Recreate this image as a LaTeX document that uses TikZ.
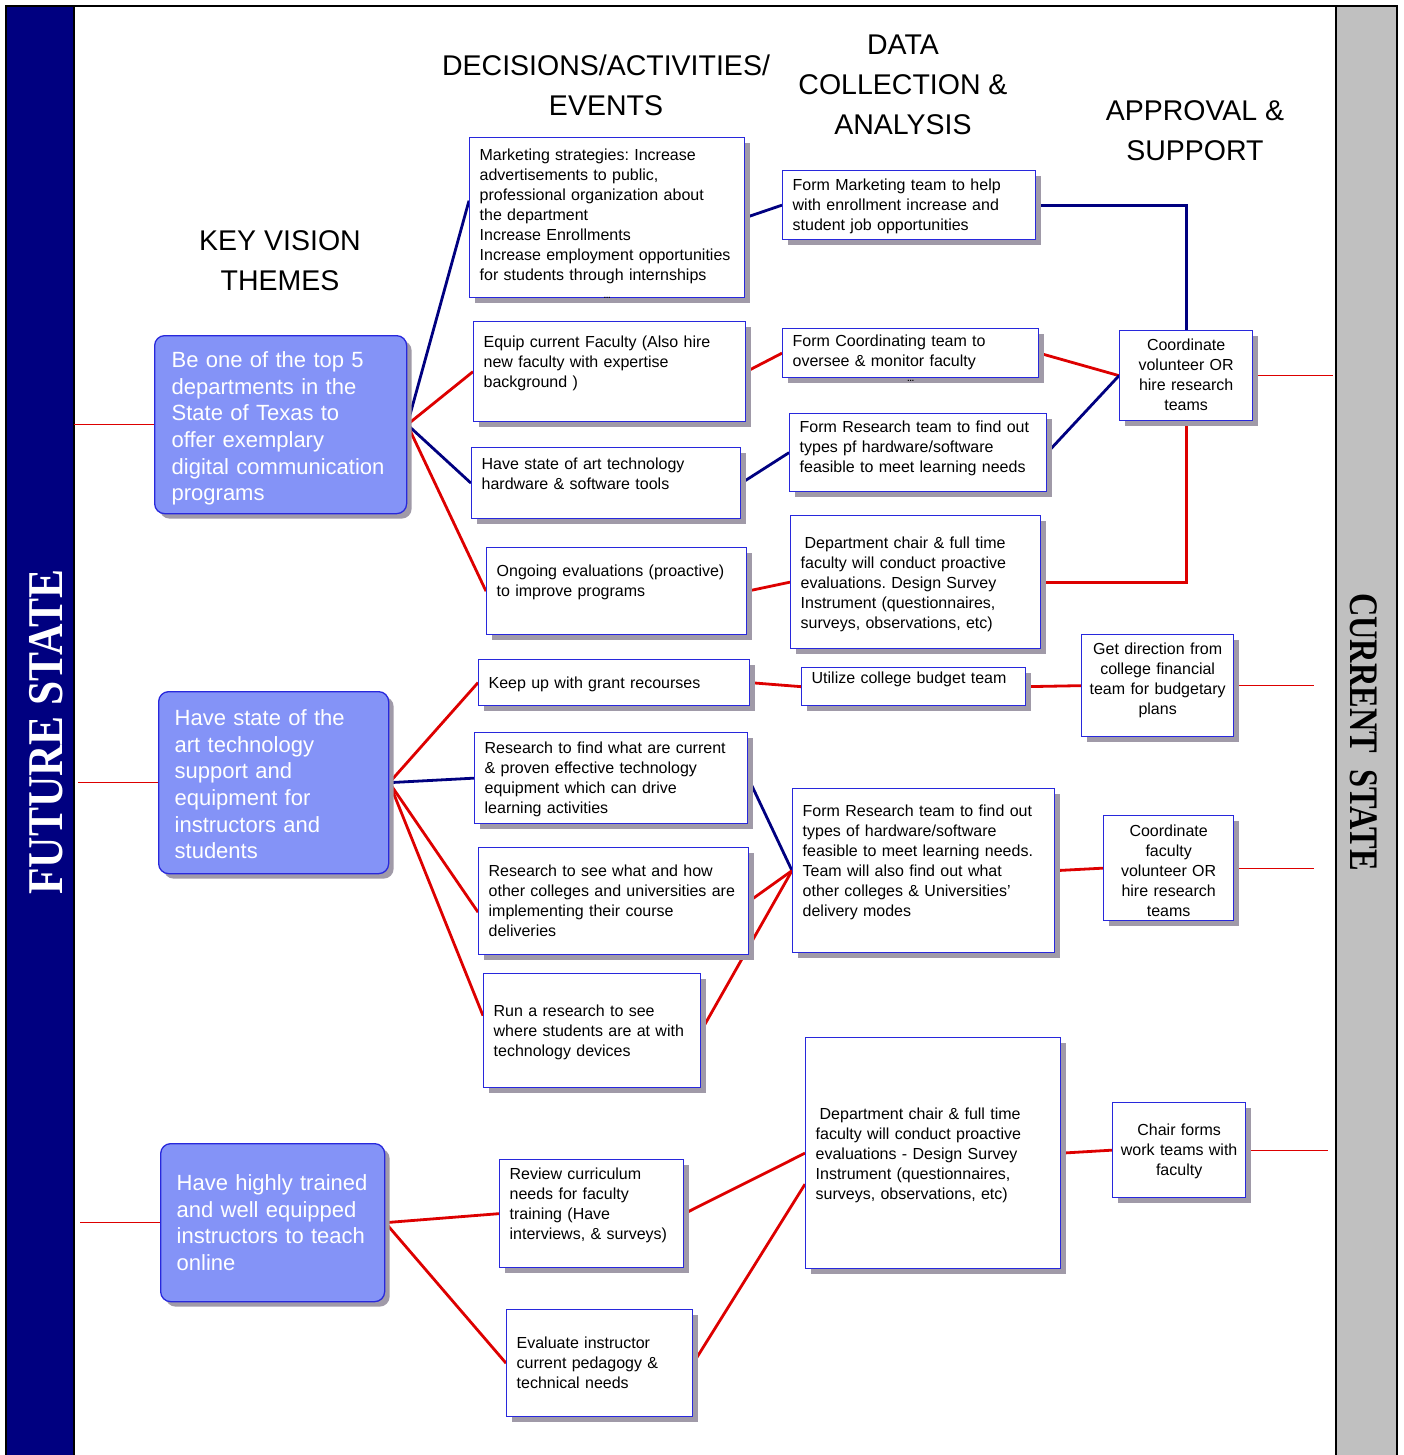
\documentclass[tikz,border=0pt]{standalone}
\usepackage{graphicx}
\usepackage{fontspec}
\setmainfont{Liberation Sans}
\newfontfamily\bandfont{Liberation Serif}
\usetikzlibrary{shadows,backgrounds}
\frenchspacing

\definecolor{bandnavy}{RGB}{0,0,128}
\definecolor{bandgray}{RGB}{192,192,192}
\definecolor{linkred}{RGB}{221,0,0}
\definecolor{cellblue}{RGB}{40,40,220}
\definecolor{themefill}{RGB}{132,147,247}
\definecolor{shade}{RGB}{160,154,168}

\newcommand\cellfont{\fontsize{16}{20}\selectfont}
\newcommand\themefont{\fontsize{22}{26.6}\selectfont}
\newcommand\headfont{\fontsize{28.5}{40}\selectfont}

\tikzset{
  cell/.style n args={3}{draw=cellblue, line width=1.3pt, fill=white,
    anchor=north west, align=left, inner xsep=10pt, inner ysep=0pt,
    text width=#1, text depth=#2, text height=#3, font=\cellfont,
    general shadow={fill=shade, shadow xshift=5pt, shadow yshift=-5pt}},
  theme/.style n args={3}{cell={#1}{#2}{#3}, fill=themefill, text=white,
    rounded corners=10pt, inner xsep=17pt, font=\themefont},
  approve/.style n args={3}{cell={#1}{#2}{#3}, align=center, inner xsep=4pt},
  head/.style={align=center, font=\headfont},
  dots/.style={font=\fontsize{8}{8}\selectfont\bfseries, inner sep=0pt},
  navylink/.style={draw=bandnavy, line width=2.8pt},
  redlink/.style={draw=linkred, line width=2.8pt},
  thinlink/.style={draw=linkred, line width=0.8pt}
}

\begin{document}
\begin{tikzpicture}[x=1pt, y=-1pt]
\useasboundingbox (0,0) rectangle (1404,1455);

% column headings
\node[head] (themes) at (280,261) {KEY VISION\\THEMES};
\node[head] (decisions) at (606,85) {DECISIONS/ACTIVITIES/\\EVENTS};
\node[head] (data) at (903,85) {DATA\\COLLECTION \&\\ANALYSIS};
\node[head] (approval) at (1195,131) {APPROVAL \&\\SUPPORT};

% side bands
\node[rotate=90, text=white, font=\bandfont\bfseries\fontsize{43.5}{44}\selectfont] (future) at (46,732) {\scalebox{1}[1.15]{FUTURE STATE}};
\node[rotate=-90, font=\bandfont\bfseries\fontsize{32.4}{33}\selectfont] (current) at (1364,732) {\scalebox{1}[1.25]{CURRENT\ \ STATE}};

% key vision themes
\node[theme={218pt}{146pt}{32pt}] (top5) at (154,335) {Be one of the top 5\\departments in the\\State of Texas to\\offer exemplary\\digital communication\\programs};
\node[theme={198pt}{148pt}{34pt}, inner xsep=16pt] (tech) at (158,691) {Have state of the\\art technology\\support and\\equipment for\\instructors and\\students};
\node[theme={192pt}{111pt}{47pt}, inner xsep=16pt] (online) at (160,1143) {Have highly trained\\and well equipped\\instructors to teach\\online};

% decisions / activities / events
\node[cell={255pt}{137pt}{23pt}, label={[dots, anchor=center, label distance=0pt]south:...}] (mkt) at (469,137) {Marketing strategies: Increase\\advertisements to public,\\professional organization about\\the department\\Increase Enrollments\\Increase employment opportunities\\for students through internships};
\node[cell={252pt}{74pt}{26pt}] (equip) at (473,321) {Equip current Faculty (Also hire\\new faculty with expertise\\background )};
\node[cell={249pt}{49pt}{22pt}] (tools) at (471,447) {Have state of art technology\\hardware \& software tools};
\node[cell={240pt}{58pt}{29pt}] (evals) at (486,547) {Ongoing evaluations (proactive)\\to improve programs};
\node[cell={251pt}{17pt}{29pt}] (grant) at (478,659) {Keep up with grant recourses};
\node[cell={253pt}{70pt}{21pt}] (proven) at (474,732) {Research to find what are current\\\& proven effective technology\\equipment which can drive\\learning activities};
\node[cell={250pt}{78pt}{29pt}] (others) at (478,847) {Research to see what and how\\other colleges and universities are\\implementing their course\\deliveries};
\node[cell={197pt}{71pt}{43pt}] (devices) at (483,973) {Run a research to see\\where students are at with\\technology devices};
\node[cell={164pt}{88pt}{20pt}] (curric) at (499,1159) {Review curriculum\\needs for faculty\\training (Have\\interviews, \& surveys)};
\node[cell={166pt}{68pt}{39pt}] (pedag) at (506,1309) {Evaluate instructor\\current pedagogy \&\\technical needs};

% data collection & analysis
\node[cell={233pt}{49pt}{20pt}] (mktteam) at (782,170) {Form Marketing team to help\\with enrollment increase and\\student job opportunities};
\node[cell={236pt}{31pt}{18pt}, label={[dots, label distance=2pt]south:...}] (coordteam) at (782,328) {Form Coordinating team to\\oversee \& monitor faculty};
\node[cell={237pt}{59pt}{19pt}] (resteam) at (789,413) {Form Research team to find out\\types pf hardware/software\\feasible to meet learning needs};
\node[cell={230pt}{100pt}{33pt}] (chair) at (790,515) {\hspace{4pt}Department chair \& full time\\faculty will conduct proactive\\evaluations. Design Survey\\Instrument (questionnaires,\\surveys, observations, etc)};
\node[cell={204pt}{22pt}{16pt}] (budget) at (801,667) {Utilize college budget team};
\node[cell={242pt}{136pt}{28pt}] (resteamb) at (792,788) {Form Research team to find out\\types of hardware/software\\feasible to meet learning needs.\\Team will also find out what\\other colleges \& Universities'\\delivery modes};
\node[cell={235pt}{149pt}{82pt}] (chairb) at (805,1037) {\hspace{4pt}Department chair \& full time\\faculty will conduct proactive\\evaluations - Design Survey\\Instrument (questionnaires,\\surveys, observations, etc)};

% approval & support
\node[approve={125pt}{70pt}{20pt}] (hire) at (1119,330) {Coordinate\\volunteer OR\\hire research\\teams};
\node[approve={144pt}{82pt}{20pt}] (direction) at (1081,634) {Get direction from\\college financial\\team for budgetary\\plans};
\node[approve={122pt}{84pt}{21pt}] (hirefac) at (1103,815) {Coordinate\\faculty\\volunteer OR\\hire research\\teams};
\node[approve={125pt}{62pt}{33pt}] (chairforms) at (1112,1102) {Chair forms\\work teams with\\faculty};

\begin{scope}[on background layer]
  \fill[bandnavy] (6,6) rectangle (74,1455);
  \fill[bandgray] (1336,6) rectangle (1397,1455);
  \draw[line width=2.5pt] (6,1455) -- (6,6) -- (1397,6) -- (1397,1455);
  \draw[line width=2.5pt] (74,6) -- (74,1455);
  \draw[line width=2.5pt] (1336,6) -- (1336,1455);

  \draw[thinlink] (top5.west) -- ++(-80,0);
  \draw[navylink] (top5.east) -- ([yshift=17pt]mkt.west);
  \draw[redlink] (top5.east) -- (equip.west);
  \draw[navylink] (top5.east) -- (tools.west);
  \draw[redlink] (top5.east) -- (evals.west);
  \draw[navylink] (mkt.east) -- (mktteam.west);
  \draw[redlink] (equip.east) -- (coordteam.west);
  \draw[navylink] (tools.east) -- (resteam.west);
  \draw[redlink] (evals.east) -- (chair.west);
  \draw[navylink] (mktteam.east) -| (hire.north);
  \draw[redlink] (coordteam.east) -- (hire.west);
  \draw[navylink] (resteam.east) -- (hire.west);
  \draw[redlink] (chair.east) -| (hire.south);
  \draw[thinlink] (hire.east) -- ++(80,0);

  \draw[thinlink] (tech.west) -- ++(-80,0);
  \draw[redlink] (tech.east) -- (grant.west);
  \draw[navylink] (tech.east) -- (proven.west);
  \draw[redlink] (tech.east) -- ([yshift=-11pt]others.west);
  \draw[redlink] (tech.east) -- ([yshift=15pt]devices.west);
  \draw[redlink] (grant.east) -- (budget.west);
  \draw[redlink] (budget.east) -- (direction.west);
  \draw[thinlink] (direction.east) -- ++(80,0);
  \draw[navylink] (proven.east) -- (resteamb.west);
  \draw[redlink] (others.east) -- (resteamb.west);
  \draw[redlink] (devices.east) -- (resteamb.west);
  \draw[redlink] (resteamb.east) -- (hirefac.west);
  \draw[thinlink] (hirefac.east) -- ++(80,0);

  \draw[thinlink] (online.west) -- ++(-80,0);
  \draw[redlink] (online.east) -- (curric.west);
  \draw[redlink] (online.east) -- (pedag.west);
  \draw[redlink] (curric.east) -- (chairb.west);
  \draw[redlink] (pedag.east) -- ([yshift=-31pt]chairb.west);
  \draw[redlink] (chairb.east) -- (chairforms.west);
  \draw[thinlink] (chairforms.east) -- ++(82,0);
\end{scope}
\end{tikzpicture}
\end{document}
